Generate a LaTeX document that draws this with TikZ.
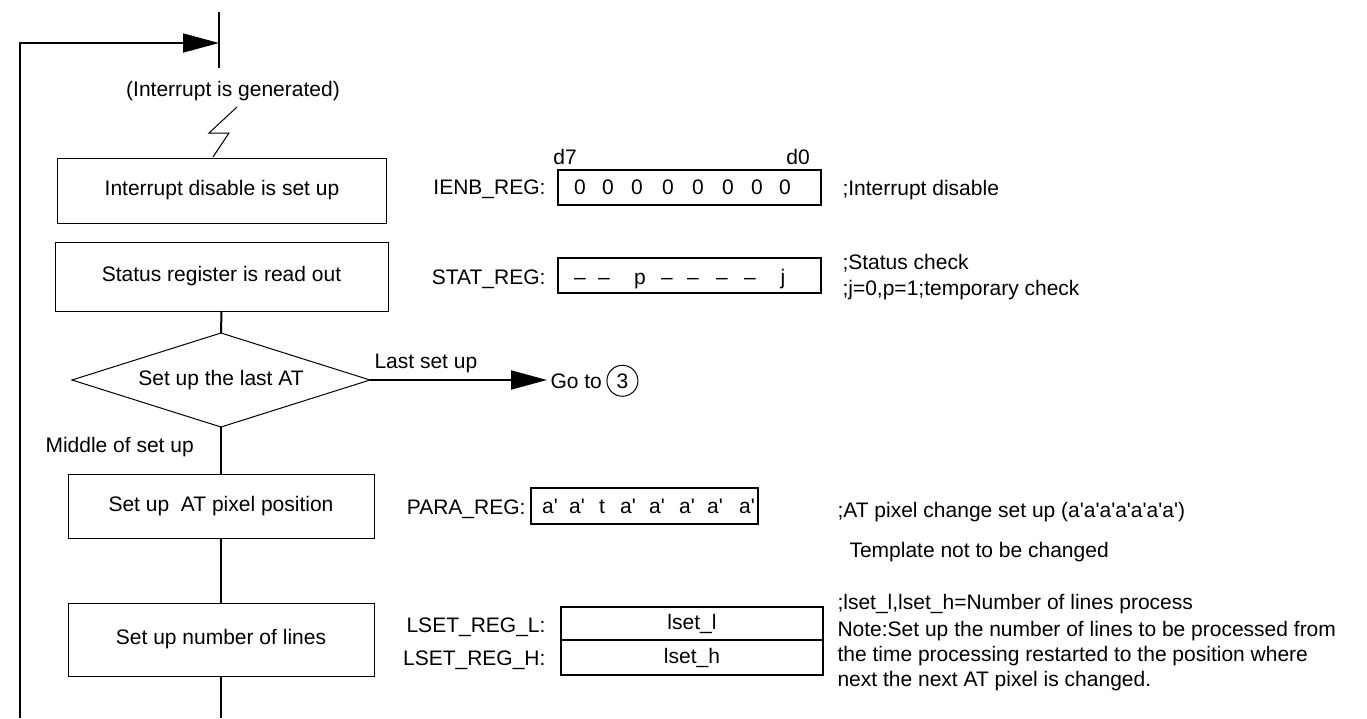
\documentclass[tikz,border=0pt]{standalone}
\usepackage{fontspec}
\setmainfont{Liberation Sans}
\usetikzlibrary{shapes.geometric,arrows.meta,positioning}
\newcommand{\q}{\textquotesingle}
\tikzset{
    every node/.style={font=\fontsize{21}{25}\selectfont},
    procbox/.style={rectangle, draw, line width=1pt, inner sep=0pt, outer sep=0pt},
    decision/.style={diamond, draw, line width=1pt, inner sep=0pt, outer sep=0pt, aspect=3.17, minimum width=298pt, minimum height=94pt},
    regbox/.style={rectangle, draw, line width=2pt, inner sep=0pt, outer sep=0pt, minimum width=263pt, minimum height=35pt},
    reglabel/.style={anchor=base east},
    bitlabel/.style={anchor=base},
    note/.style={anchor=base west},
    flow/.style={line width=2pt},
    loopline/.style={line width=1.5pt},
    bigarrow/.style={-{Triangle[length=36pt,width=19pt]}},
}
\begin{document}
\begin{tikzpicture}[x=1pt,y=-1pt]
    \useasboundingbox (0,0) rectangle (1367,718);

    % flow chart
    \node[procbox, minimum width=329pt, minimum height=65pt] (disable) at (222,190.5) {Interrupt disable is set up};
    \node[procbox, minimum width=333pt, minimum height=69pt] (status) at (221.5,276.5) {Status register is read out};
    \node[decision] (last) at (221,380) {Set up the last AT};
    \node[procbox, minimum width=306pt, minimum height=64pt] (pixel) at (221,506) {Set up\ \ AT pixel position};
    \node[procbox, minimum width=306pt, minimum height=73pt] (lines) at (221,639.5) {Set up number of lines};

    \coordinate (stubtop) at (219,12);
    \coordinate (stubbot) at (219,68);
    \coordinate (entry) at (219,43);
    \coordinate (loopbot) at (20,718);
    \coordinate (exit) at (221,718);

    \draw[flow] (stubtop) -- (stubbot);
    \draw[loopline, bigarrow] (loopbot) |- (entry);
    \node[bitlabel] (irq) at (233,96) {(Interrupt is generated)};
    \draw[line width=1pt] (237,107) -- (209,133) -- (229,133) -- (213,157);

    \draw[flow] (status.south) -- (last.north);
    \draw[flow] (last.south) -- (pixel.north);
    \draw[flow] (pixel.south) -- (lines.north);
    \draw[flow] (lines.south) -- (exit);

    \node[note] (goto) at (547,388) {Go to};
    \node[circle, draw, line width=1pt, minimum size=31pt, inner sep=0pt, right=1pt of goto] (three) {3};
    \draw[flow, bigarrow] (last.east) -- (goto.west |- last.east);
    \node[note] (lastlbl) at (371,368) {Last set up};
    \node[note] (midlbl) at (42,452) {Middle of set up};

    % registers
    \node[regbox] (ienb) at (689.5,187.5) {};
    \node[reglabel] (ienblbl) at (549,194) {IENB\_REG:};
    \node[bitlabel] (d7) at (565,164) {d7};
    \node[bitlabel] (d0) at (798,164) {d0};
    \foreach \x [count=\i] in {580,608,637,668,698,728,757,785}
        \node[bitlabel] (ienb\i) at (\x,194) {0};

    \node[regbox] (stat) at (689.5,275.5) {};
    \node[reglabel] (statlbl) at (549,284) {STAT\_REG:};
    \foreach \x/\b [count=\i] in {580/\textendash, 604/\textendash, 640/p, 667/\textendash, 693/\textendash, 722/\textendash, 750/\textendash, 783/j}
        \node[bitlabel] (stat\i) at (\x,284) {\b};

    \node[regbox, minimum width=227pt, minimum height=36pt] (para) at (644.5,506) {};
    \node[reglabel] (paralbl) at (529,514) {PARA\_REG:};
    \foreach \x/\b [count=\i] in {550/a\q, 577/a\q, 602/t, 628/a\q, 657/a\q, 687/a\q, 715/a\q, 747/a\q}
        \node[bitlabel] (para\i) at (\x,513) {\b};

    \node[regbox, minimum width=262pt, minimum height=33pt] (lsetl) at (692,623.5) {lset\_l};
    \node[regbox, minimum width=262pt, minimum height=35pt, below=0pt of lsetl] (lseth) {lset\_h};
    \node[reglabel] (lsetllbl) at (549,632) {LSET\_REG\_L:};
    \node[reglabel] (lsethlbl) at (549,665) {LSET\_REG\_H:};

    % comments
    \node[note] (c1) at (839,195) {;Interrupt disable};
    \node[note] (c2) at (839,269) {;Status check};
    \node[note] (c3) at (839,295) {;j=0,p=1;temporary check};
    \node[note] (c4) at (834,517) {;AT pixel change set up (a\q a\q a\q a\q a\q a\q a\q)};
    \node[note] (c5) at (846,557) {Template not to be changed};
    \node[note] (c6) at (834,609) {;lset\_l,lset\_h=Number of lines process};
    \node[note] (c7) at (834,636) {Note:Set up the number of lines to be processed from};
    \node[note] (c8) at (834,661) {the time processing restarted to the position where};
    \node[note] (c9) at (834,686) {next the next AT pixel is changed.};
\end{tikzpicture}
\end{document}
